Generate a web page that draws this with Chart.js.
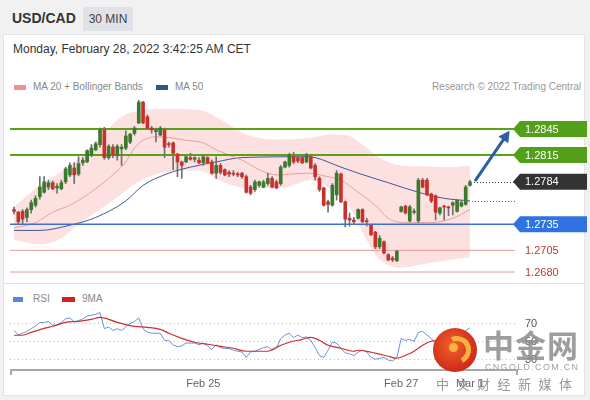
<!DOCTYPE html>
<html><head><meta charset="utf-8">
<script src="https://cdn.jsdelivr.net/npm/chart.js@4.4.1/dist/chart.umd.min.js"></script>
<style>
body{margin:0;width:590px;height:400px;background:#f1f1f1;position:relative;overflow:hidden;font-family:"Liberation Sans",Arial,sans-serif;}
.abs{position:absolute;white-space:nowrap;}
canvas{position:absolute;}
</style></head><body>
<div class="abs" style="left:12px;top:10px;font-size:14px;font-weight:bold;color:#333;">USD/CAD</div>
<div class="abs" style="left:83px;top:7px;width:50px;height:24px;background:#dfe2e6;border-radius:2px;font-size:12px;color:#444;line-height:24px;text-align:center;">30 MIN</div>
<div class="abs" style="left:3px;top:34px;width:582px;height:362px;background:#fff;border:1px solid #e4e4e4;box-sizing:border-box;"></div>
<div class="abs" style="left:4px;top:283px;width:580px;height:1px;background:#dbe5ee;"></div>
<div class="abs" style="left:13px;top:42px;font-size:12px;color:#333;">Monday, February 28, 2022 3:42:25 AM CET</div>
<div class="abs" style="left:14px;top:85px;width:12px;height:5px;background:#ec9090;"></div>
<div class="abs" style="left:33px;top:81px;font-size:10px;color:#888;">MA 20 + Bollinger Bands</div>
<div class="abs" style="left:156px;top:85px;width:12px;height:5px;background:#2c5690;"></div>
<div class="abs" style="left:175px;top:81px;font-size:10px;color:#888;">MA 50</div>
<div class="abs" style="right:9px;top:81px;font-size:10px;color:#999;">Research © 2022 Trading Central</div>
<div class="abs" style="left:13px;top:297px;width:10px;height:5px;background:#5b86d6;"></div>
<div class="abs" style="left:33px;top:293px;font-size:10px;color:#888;">RSI</div>
<div class="abs" style="left:62px;top:297px;width:13px;height:5px;background:#d42020;"></div>
<div class="abs" style="left:82px;top:293px;font-size:10px;color:#888;">9MA</div>
<canvas id="main" width="590" height="185" style="left:0;top:95px;"></canvas>
<canvas id="rsi" width="590" height="105" style="left:0;top:290px;"></canvas>
<!-- watermark -->
<div class="abs" style="left:433px;top:328px;width:44px;height:44px;border-radius:50%;background:radial-gradient(circle at 45% 40%,#f2642a,#cf2a1a 70%,#b81e14);z-index:5;"></div>
<div class="abs" style="left:443px;top:336px;width:18px;height:18px;border-radius:50%;border:5px solid #f6b23c;border-bottom-color:transparent;border-left-color:transparent;transform:rotate(20deg);z-index:6;"></div>
<div class="abs" style="left:449px;top:343px;width:9px;height:9px;border-radius:50%;background:#f6b23c;z-index:6;"></div>
<div class="abs" style="left:483px;top:326px;font-size:31px;font-weight:bold;color:rgba(140,140,140,0.85);letter-spacing:1px;font-family:'Noto Sans CJK SC';line-height:36px;z-index:5;">中金网</div>
<div class="abs" style="left:485px;top:362px;font-size:9px;color:rgba(150,150,150,0.9);letter-spacing:1.3px;z-index:5;">CNGOLD.COM.CN</div>
<div class="abs" style="left:436px;top:374px;font-size:13px;color:rgba(140,140,140,0.9);letter-spacing:7.5px;font-family:'Noto Sans CJK SC';z-index:5;">中文财经新媒体</div>
<script>
// ---------- DATA ----------
const candleOpen = [1.2752,1.2749,1.2750,1.2743,1.2752,1.2757,1.2767,1.2772,1.2778,1.2783,1.2777,1.2776,1.2784,1.2792,1.2800,1.2793,1.2806,1.2807,1.2815,1.2821,1.2827,1.2844,1.2812,1.2824,1.2814,1.2822,1.2823,1.2830,1.2840,1.2852,1.2876,1.2859,1.2846,1.2842,1.2838,1.2844,1.2828,1.2829,1.2816,1.2807,1.2807,1.2812,1.2810,1.2809,1.2806,1.2812,1.2807,1.2794,1.2803,1.2798,1.2795,1.2794,1.2793,1.2794,1.2790,1.2778,1.2775,1.2780,1.2778,1.2782,1.2788,1.2784,1.2782,1.2801,1.2803,1.2813,1.2812,1.2812,1.2807,1.2813,1.2803,1.2788,1.2777,1.2761,1.2757,1.2769,1.2793,1.2761,1.2742,1.2740,1.2742,1.2752,1.2739,1.2734,1.2726,1.2709,1.2715,1.2700,1.2696,1.2693,1.2750,1.2756,1.2739,1.2749,1.2739,1.2786,1.2786,1.2770,1.2768,1.2748,1.2756,1.2755,1.2757,1.2750,1.2756,1.2758,1.2780];
const candleHigh = [1.2755,1.2750,1.2752,1.2754,1.2763,1.2768,1.2790,1.2790,1.2786,1.2785,1.2782,1.2786,1.2801,1.2806,1.2806,1.2813,1.2812,1.2821,1.2827,1.2830,1.2846,1.2847,1.2827,1.2827,1.2827,1.2827,1.2843,1.2840,1.2848,1.2878,1.2877,1.2861,1.2848,1.2846,1.2848,1.2846,1.2830,1.2830,1.2817,1.2808,1.2814,1.2817,1.2813,1.2812,1.2814,1.2813,1.2809,1.2813,1.2805,1.2799,1.2797,1.2797,1.2795,1.2795,1.2792,1.2780,1.2786,1.2785,1.2786,1.2794,1.2790,1.2786,1.2803,1.2808,1.2817,1.2818,1.2813,1.2813,1.2817,1.2815,1.2805,1.2790,1.2778,1.2763,1.2782,1.2797,1.2794,1.2762,1.2748,1.2743,1.2753,1.2753,1.2742,1.2735,1.2727,1.2722,1.2716,1.2701,1.2698,1.2705,1.2756,1.2757,1.2757,1.2753,1.2788,1.2788,1.2788,1.2771,1.2769,1.2755,1.2757,1.2756,1.2761,1.2763,1.2763,1.2780,1.2786];
const candleLow = [1.2747,1.2735,1.2735,1.2738,1.2748,1.2755,1.2764,1.2771,1.2775,1.2775,1.2771,1.2775,1.2782,1.2790,1.2782,1.2791,1.2803,1.2806,1.2813,1.2820,1.2824,1.2810,1.2810,1.2812,1.2809,1.2803,1.2821,1.2828,1.2838,1.2851,1.2851,1.2845,1.2840,1.2830,1.2837,1.2812,1.2824,1.2798,1.2790,1.2788,1.2806,1.2809,1.2807,1.2805,1.2803,1.2805,1.2793,1.2788,1.2793,1.2791,1.2790,1.2791,1.2790,1.2788,1.2771,1.2769,1.2773,1.2778,1.2777,1.2780,1.2777,1.2776,1.2780,1.2800,1.2801,1.2805,1.2806,1.2805,1.2806,1.2799,1.2786,1.2773,1.2756,1.2749,1.2756,1.2763,1.2760,1.2732,1.2733,1.2735,1.2741,1.2737,1.2733,1.2722,1.2707,1.2707,1.2701,1.2693,1.2692,1.2692,1.2749,1.2747,1.2738,1.2747,1.2737,1.2777,1.2768,1.2760,1.2740,1.2746,1.2740,1.2745,1.2746,1.2749,1.2755,1.2757,1.2779];
const candleClose = [1.2750,1.2738,1.2741,1.2752,1.2760,1.2765,1.2778,1.2784,1.2783,1.2776,1.2779,1.2783,1.2799,1.2803,1.2792,1.2805,1.2809,1.2820,1.2823,1.2828,1.2844,1.2812,1.2825,1.2815,1.2825,1.2824,1.2837,1.2839,1.2846,1.2876,1.2852,1.2846,1.2844,1.2844,1.2846,1.2824,1.2827,1.2817,1.2807,1.2803,1.2813,1.2810,1.2812,1.2806,1.2813,1.2806,1.2794,1.2803,1.2795,1.2792,1.2793,1.2793,1.2792,1.2790,1.2772,1.2771,1.2784,1.2784,1.2784,1.2788,1.2778,1.2777,1.2801,1.2807,1.2815,1.2807,1.2808,1.2806,1.2815,1.2800,1.2790,1.2775,1.2757,1.2758,1.2780,1.2794,1.2761,1.2741,1.2740,1.2738,1.2752,1.2738,1.2738,1.2723,1.2709,1.2719,1.2702,1.2694,1.2694,1.2704,1.2755,1.2748,1.2755,1.2750,1.2786,1.2778,1.2769,1.2762,1.2749,1.2754,1.2755,1.2754,1.2760,1.2763,1.2760,1.2778,1.2784];

const ma20Index  = [0,5,9,13,17,22,26,28,30,33,36,40,44,47,51,53,57,61,68,73,76,80,84,87,91,97,102,106];
const ma20Values = [1.2731,1.2737,1.2749,1.2757,1.2769,1.2788,1.2807,1.2823,1.2832,1.2836,1.2835,1.2832,1.2829,1.2821,1.2813,1.2809,1.2798,1.2792,1.2794,1.2790,1.2786,1.2772,1.2757,1.2742,1.2737,1.2737,1.2742,1.2752];
const ma50Index  = [0,6,13,19,26,30,36,41,47,53,68,70,76,80,87,94,100,106];
const ma50Values = [1.2728,1.2728,1.2734,1.2743,1.2762,1.2780,1.2794,1.2801,1.2807,1.2812,1.2813,1.2812,1.2801,1.2794,1.2783,1.2772,1.2765,1.2762];
const bandIndex = [0,6,11,15,20,25,29,35,43,48,54,62,69,74,78,81,84,87,90,95,101,106];
const bandUpper = [1.2755,1.2780,1.2796,1.2811,1.2835,1.2859,1.2866,1.2868,1.2867,1.2856,1.2839,1.2833,1.2835,1.2839,1.2837,1.2827,1.2815,1.2807,1.2803,1.2802,1.2801,1.2803];
const bandLower = [1.2717,1.2712,1.2719,1.2735,1.2752,1.2770,1.2784,1.2795,1.2797,1.2785,1.2777,1.2777,1.2786,1.2774,1.2755,1.2726,1.2700,1.2688,1.2685,1.2689,1.2694,1.2697];

const levelValues = [1.2845, 1.2815, 1.2784, 1.2735, 1.2705, 1.2680];
const levelLabels = ["1.2845", "1.2815", "1.2784", "1.2735", "1.2705", "1.2680"];
const arrowFrom = [107.3, 1.2786];
const arrowTo   = [115.2, 1.2843];

const rsiValues = [62,57,59,61,64,67,71,71,72,68,68,71,75,76,72,73,75,78,79,80,82,64,66,62,64,62,66,70,72,76,64,60,59,59,59,51,51,46,44,45,48,48,48,46,48,45,41,46,43,42,42,40,39,38,32,38,39,41,43,44,40,42,53,57,59,54,57,54,55,51,43,34,32,40,49,48,42,37,36,34,38,40,38,32,30,31,32,29,28,32,53,51,52,50,60,61,57,53,47,49,48,49,51,55,56,62,65];
const rsiMaIndex  = [0,2,4,7,9,12,15,18,20,24,28,31,34,36,39,42,45,48,51,54,57,59,61,64,67,69,71,73,76,79,80,83,85,87,89,91,93,95,97,100,103,106];
const rsiMaValues = [56.7,56.7,60,64.4,66.7,71.1,72.2,74.4,76.7,71.1,66.7,65.6,63.3,58.9,53.3,48.9,46.7,44.4,42.2,38.9,38.9,38.9,43.3,48.9,52.2,54.4,51.1,45.6,42.2,38.9,40,37.8,35.6,33.3,31.1,34.4,38.9,45.6,50,52,53,55];
const rsiGuides = [70, 50, 30];
const xTickIndex  = [44, 90, 106];
const xTickLabels = ["Feb 25", "Feb 27", "Mar 1"];

// ---------- VIEW ----------
const X_MIN = -0.93, X_MAX = 116.46;
const PRICE_MIN = 1.26708, PRICE_MAX = 1.28842;
const FONT = '"Liberation Sans", Arial, sans-serif';
const GREEN = '#3a7a2c', RED = '#c9302c';

const pts = (ix, vals) => ix.map((x, i) => ({x, y: vals[i]}));
const idx = candleOpen.map((_, i) => i);
const upColors = idx.map(i => candleClose[i] >= candleOpen[i] ? GREEN : RED);

const levelStyle = [
  {color:'#5aa116', width:2, tag:'#52a01a'},
  {color:'#5aa116', width:2, tag:'#52a01a'},
  null,
  {color:'#3b6fd9', width:1.5, tag:'#2f72e0'},
  {color:'#e89a9a', width:1, text:'#c0392b'},
  {color:'#e89a9a', width:1, text:'#c0392b'}
];

const levelDatasets = [];
levelValues.forEach((v, i) => {
  const s = levelStyle[i];
  if (!s) return;
  levelDatasets.push({type:'line', data:[{x:X_MIN, y:v},{x:X_MAX, y:v}], borderColor:s.color, borderWidth:s.width, pointRadius:0, order:6});
});

const mainOverlay = {
  id:'mainOverlay',
  afterDatasetsDraw(chart) {
    const ctx = chart.ctx, xs = chart.scales.x, ys = chart.scales.y;
    const last = candleClose.length - 1;
    ctx.save();
    ctx.lineWidth = 1;
    ctx.setLineDash([1, 2]);
    ctx.strokeStyle = '#333';
    let yy = Math.round(ys.getPixelForValue(levelValues[2])) + 0.5;
    ctx.beginPath(); ctx.moveTo(xs.getPixelForValue(last) + 4, yy); ctx.lineTo(xs.right, yy); ctx.stroke();
    ctx.strokeStyle = '#666';
    yy = Math.round(ys.getPixelForValue(ma50Values[ma50Values.length - 1])) + 0.5;
    ctx.beginPath(); ctx.moveTo(xs.getPixelForValue(last) + 2, yy); ctx.lineTo(xs.right, yy); ctx.stroke();
    ctx.setLineDash([]);
    const ax0 = xs.getPixelForValue(arrowFrom[0]), ay0 = ys.getPixelForValue(arrowFrom[1]);
    const ax1 = xs.getPixelForValue(arrowTo[0]), ay1 = ys.getPixelForValue(arrowTo[1]);
    const ang = Math.atan2(ay1 - ay0, ax1 - ax0);
    ctx.strokeStyle = '#2c5ea8'; ctx.fillStyle = '#2c5ea8'; ctx.lineWidth = 3; ctx.lineCap = 'round';
    ctx.beginPath(); ctx.moveTo(ax0, ay0); ctx.lineTo(ax1 - 6 * Math.cos(ang), ay1 - 6 * Math.sin(ang)); ctx.stroke();
    ctx.beginPath();
    ctx.moveTo(ax1, ay1);
    ctx.lineTo(ax1 - 11 * Math.cos(ang) + 6 * Math.sin(ang), ay1 - 11 * Math.sin(ang) - 6 * Math.cos(ang));
    ctx.lineTo(ax1 - 11 * Math.cos(ang) - 6 * Math.sin(ang), ay1 - 11 * Math.sin(ang) + 6 * Math.cos(ang));
    ctx.closePath(); ctx.fill();
    ctx.font = '11px ' + FONT; ctx.textBaseline = 'middle';
    levelValues.forEach((v, i) => {
      const py = ys.getPixelForValue(v);
      const s = levelStyle[i];
      const tagColor = s ? s.tag : '#333';
      if (s && s.text) {
        ctx.fillStyle = s.text; ctx.fillText(levelLabels[i], xs.right + 10, py + 0.5);
        return;
      }
      const L = xs.right - 2, R = 587, h = 8;
      ctx.fillStyle = tagColor;
      ctx.beginPath();
      ctx.moveTo(L, py); ctx.lineTo(L + 7, py - h); ctx.lineTo(R, py - h); ctx.lineTo(R, py + h); ctx.lineTo(L + 7, py + h); ctx.closePath(); ctx.fill();
      ctx.fillStyle = '#fff'; ctx.fillText(levelLabels[i], xs.right + 10, py + 0.5);
    });
    ctx.restore();
  }
};

new Chart(document.getElementById('main'), {
  type:'line',
  data:{ datasets:[
    {type:'line', data:pts(bandIndex, bandUpper), borderWidth:0, pointRadius:0, fill:'+1', backgroundColor:'#fde1e1', cubicInterpolationMode:'monotone', order:10},
    {type:'line', data:pts(bandIndex, bandLower), borderWidth:0, pointRadius:0, fill:false, cubicInterpolationMode:'monotone', order:10},
    {type:'line', data:pts(ma20Index, ma20Values), borderColor:'#e8a1a1', borderWidth:1, pointRadius:0, cubicInterpolationMode:'monotone', order:8},
    {type:'line', data:pts(ma50Index, ma50Values), borderColor:'#3f5a93', borderWidth:1, pointRadius:0, cubicInterpolationMode:'monotone', order:8},
    ...levelDatasets,
    {type:'bar', data:idx.map(i => ({x:i, y:[candleLow[i], candleHigh[i]]})), backgroundColor:'#707070', barThickness:1, grouped:false, order:4},
    {type:'bar', data:idx.map(i => ({x:i, y:[candleOpen[i], candleClose[i]]})), backgroundColor:upColors, barThickness:3, minBarLength:1, grouped:false, order:2}
  ]},
  options:{
    responsive:false, animation:false, events:[],
    layout:{padding:{left:10, right:75, top:0, bottom:0}},
    plugins:{legend:{display:false}, tooltip:{enabled:false}},
    scales:{
      x:{type:'linear', min:X_MIN, max:X_MAX, display:false, offset:false},
      y:{type:'linear', min:PRICE_MIN, max:PRICE_MAX, display:false}
    }
  },
  plugins:[mainOverlay]
});

const rsiOverlay = {
  id:'rsiOverlay',
  beforeDatasetsDraw(chart) {
    const ctx = chart.ctx, xs = chart.scales.x, ys = chart.scales.y;
    ctx.save();
    ctx.strokeStyle = '#bdbdbd'; ctx.lineWidth = 1; ctx.setLineDash([1, 3]);
    rsiGuides.forEach(g => {
      const y = Math.round(ys.getPixelForValue(g)) + 0.5;
      ctx.beginPath(); ctx.moveTo(xs.left, y); ctx.lineTo(xs.right, y); ctx.stroke();
    });
    ctx.restore();
  },
  afterDraw(chart) {
    const ctx = chart.ctx, xs = chart.scales.x, ys = chart.scales.y;
    ctx.save();
    const b = ys.bottom;
    ctx.strokeStyle = '#a8a8a8'; ctx.lineWidth = 2;
    ctx.beginPath(); ctx.moveTo(xs.left + 1, b + 5); ctx.lineTo(xs.left + 1, b); ctx.lineTo(xs.right + 2, b); ctx.lineTo(xs.right + 2, b + 5); ctx.stroke();
    ctx.font = '11px ' + FONT; ctx.fillStyle = '#666'; ctx.textAlign = 'center'; ctx.textBaseline = 'top';
    xTickIndex.forEach((t, i) => ctx.fillText(xTickLabels[i], xs.getPixelForValue(t), b + 8));
    ctx.textAlign = 'left'; ctx.textBaseline = 'middle'; ctx.fillStyle = '#555';
    rsiGuides.forEach(g => ctx.fillText(String(g), xs.right + 10, ys.getPixelForValue(g) + 0.5));
    ctx.restore();
  }
};

new Chart(document.getElementById('rsi'), {
  type:'line',
  data:{ datasets:[
    {data:pts(rsiMaIndex, rsiMaValues), borderColor:'#cc2f2f', borderWidth:1.2, pointRadius:0, cubicInterpolationMode:'monotone'},
    {data:pts(idx, rsiValues), borderColor:'#6b91d8', borderWidth:1, pointRadius:0, tension:0}
  ]},
  options:{
    responsive:false, animation:false, events:[],
    layout:{padding:{left:10, right:75, top:10, bottom:25}},
    plugins:{legend:{display:false}, tooltip:{enabled:false}},
    scales:{
      x:{type:'linear', min:X_MIN, max:X_MAX, display:false},
      y:{type:'linear', min:18, max:96, display:false}
    }
  },
  plugins:[rsiOverlay]
});
</script>
</body></html>
